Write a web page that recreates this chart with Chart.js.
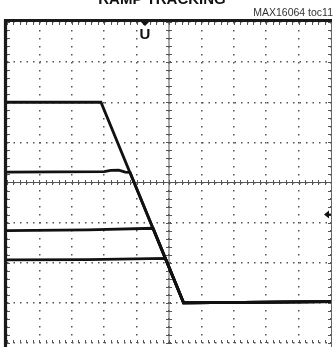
<!DOCTYPE html>
<html>
<head>
<meta charset="utf-8">
<script src="https://cdn.jsdelivr.net/npm/chart.js@4"></script>
<style>
  html, body { margin: 0; padding: 0; background: #fff; }
  #wrap { width: 334px; height: 347px; }
</style>
</head>
<body>
<div id="wrap"><canvas id="scope" width="334" height="347"></canvas></div>
<script>
// scope traces, x and y in screen divisions (10 x 8 graticule)
const trace1X = [0, 2.9, 5.45, 10];
const trace1Y = [6.0, 6.0, 1.0, 1.03];
const trace2X = [0, 3.0, 3.2, 3.45, 3.65, 3.8, 5.45, 10];
const trace2Y = [4.26, 4.27, 4.3, 4.31, 4.26, 4.25, 1.0, 1.03];
const trace3X = [0, 2.5, 4.51, 5.45, 10];
const trace3Y = [2.8, 2.82, 2.86, 1.0, 1.03];
const trace4X = [0, 2.5, 4.89, 5.45, 10];
const trace4Y = [2.07, 2.08, 2.11, 1.0, 1.03];

const xDivs = 10, yDivs = 8;
const trigPos = 4.26;   // trigger marker on top edge
const trigLevel = 3.2;  // trigger level arrow on right edge

const titleText = 'RAMP TRACKING';
const tocText = 'MAX16064 toc11';

function pts(xs, ys) {
  return xs.map((x, i) => ({ x: x, y: ys[i] }));
}

function trace(xs, ys) {
  return {
    data: pts(xs, ys),
    showLine: true,
    borderColor: '#111',
    borderWidth: 2.8,
    pointRadius: 0,
    tension: 0
  };
}

// graticule: borders, center cross and minor ticks
const graticule = {
  id: 'graticule',
  beforeDatasetsDraw(chart) {
    const ctx = chart.ctx;
    const a = chart.chartArea;
    const xs = chart.scales.x, ys = chart.scales.y;
    ctx.save();
    ctx.strokeStyle = '#555';
    ctx.lineWidth = 1;
    const cx = xs.getPixelForValue(xDivs / 2);
    const cy = ys.getPixelForValue(yDivs / 2);
    ctx.beginPath();
    ctx.moveTo(cx, a.top); ctx.lineTo(cx, a.bottom);
    ctx.moveTo(a.left, cy); ctx.lineTo(a.right, cy);
    for (let v = 0; v <= xDivs + 0.001; v += 0.2) {
      const px = Math.round(xs.getPixelForValue(v)) + 0.5;
      ctx.moveTo(px, cy - 2.5); ctx.lineTo(px, cy + 2.5);
      ctx.moveTo(px, a.top); ctx.lineTo(px, a.top + 3);
      ctx.moveTo(px, a.bottom); ctx.lineTo(px, a.bottom - 3);
    }
    for (let v = 0; v <= yDivs + 0.001; v += 0.2) {
      const py = Math.round(ys.getPixelForValue(v)) + 0.5;
      ctx.moveTo(cx - 3, py); ctx.lineTo(cx + 3, py);
      ctx.moveTo(a.left, py); ctx.lineTo(a.left + 3, py);
      ctx.moveTo(a.right, py); ctx.lineTo(a.right - 3, py);
    }
    ctx.stroke();
    // frame
    ctx.strokeStyle = '#1a1a1a';
    ctx.lineWidth = 3.2;
    ctx.beginPath();
    ctx.moveTo(a.left - 1.5, a.bottom + 4); ctx.lineTo(a.left - 1.5, a.top - 1.5);
    ctx.lineTo(a.right + 1, a.top - 1.5);
    ctx.stroke();
    ctx.strokeStyle = '#666';
    ctx.lineWidth = 1;
    ctx.beginPath();
    ctx.moveTo(a.right + 0.5, a.top); ctx.lineTo(a.right + 0.5, a.bottom + 4);
    ctx.stroke();
    ctx.restore();
  },
  afterDatasetsDraw(chart) {
    const ctx = chart.ctx;
    const a = chart.chartArea;
    const xs = chart.scales.x, ys = chart.scales.y;
    ctx.save();
    ctx.fillStyle = '#111';
    // trigger position marker
    const tx = xs.getPixelForValue(trigPos);
    ctx.beginPath();
    ctx.moveTo(tx - 4, a.top); ctx.lineTo(tx + 4, a.top); ctx.lineTo(tx, a.top + 4);
    ctx.closePath(); ctx.fill();
    ctx.font = 'bold 15px "Liberation Sans", Arial, sans-serif';
    ctx.textAlign = 'center';
    ctx.textBaseline = 'alphabetic';
    ctx.fillText('U', tx, a.top + 17);
    // trigger level arrow
    const ty = ys.getPixelForValue(trigLevel);
    ctx.beginPath();
    ctx.moveTo(a.right - 7, ty); ctx.lineTo(a.right - 2, ty - 4); ctx.lineTo(a.right - 2, ty + 4);
    ctx.closePath(); ctx.fill();
    ctx.fillRect(a.right - 3, ty - 1, 3, 2);
    // texts
    ctx.font = '10.5px "Liberation Sans", Arial, sans-serif';
    ctx.textAlign = 'right';
    ctx.fillStyle = '#333';
    ctx.fillText(tocText, 333, 16);
    ctx.font = 'bold 15px "Liberation Sans", Arial, sans-serif';
    ctx.textAlign = 'center';
    ctx.fillStyle = '#111';
    ctx.fillText(titleText, 162, 4);
    ctx.restore();
  }
};

new Chart(document.getElementById('scope').getContext('2d'), {
  type: 'scatter',
  data: {
    datasets: [
      trace(trace1X, trace1Y),
      trace(trace2X, trace2Y),
      trace(trace3X, trace3Y),
      trace(trace4X, trace4Y)
    ]
  },
  options: {
    responsive: false,
    animation: false,
    layout: { padding: { left: 7, right: 3, top: 22, bottom: 4 } },
    plugins: { legend: { display: false }, tooltip: { enabled: false } },
    scales: {
      x: {
        type: 'linear', min: 0, max: xDivs,
        ticks: { display: false, stepSize: 1 },
        grid: { color: '#555', lineWidth: 1.5, drawTicks: false },
        border: { display: false, dash: [1.5, 6.5] }
      },
      y: {
        type: 'linear', min: 0, max: yDivs,
        ticks: { display: false, stepSize: 1 },
        grid: { color: '#555', lineWidth: 1.5, drawTicks: false },
        border: { display: false, dash: [1.5, 5] }
      }
    }
  },
  plugins: [graticule]
});
</script>
</body>
</html>
